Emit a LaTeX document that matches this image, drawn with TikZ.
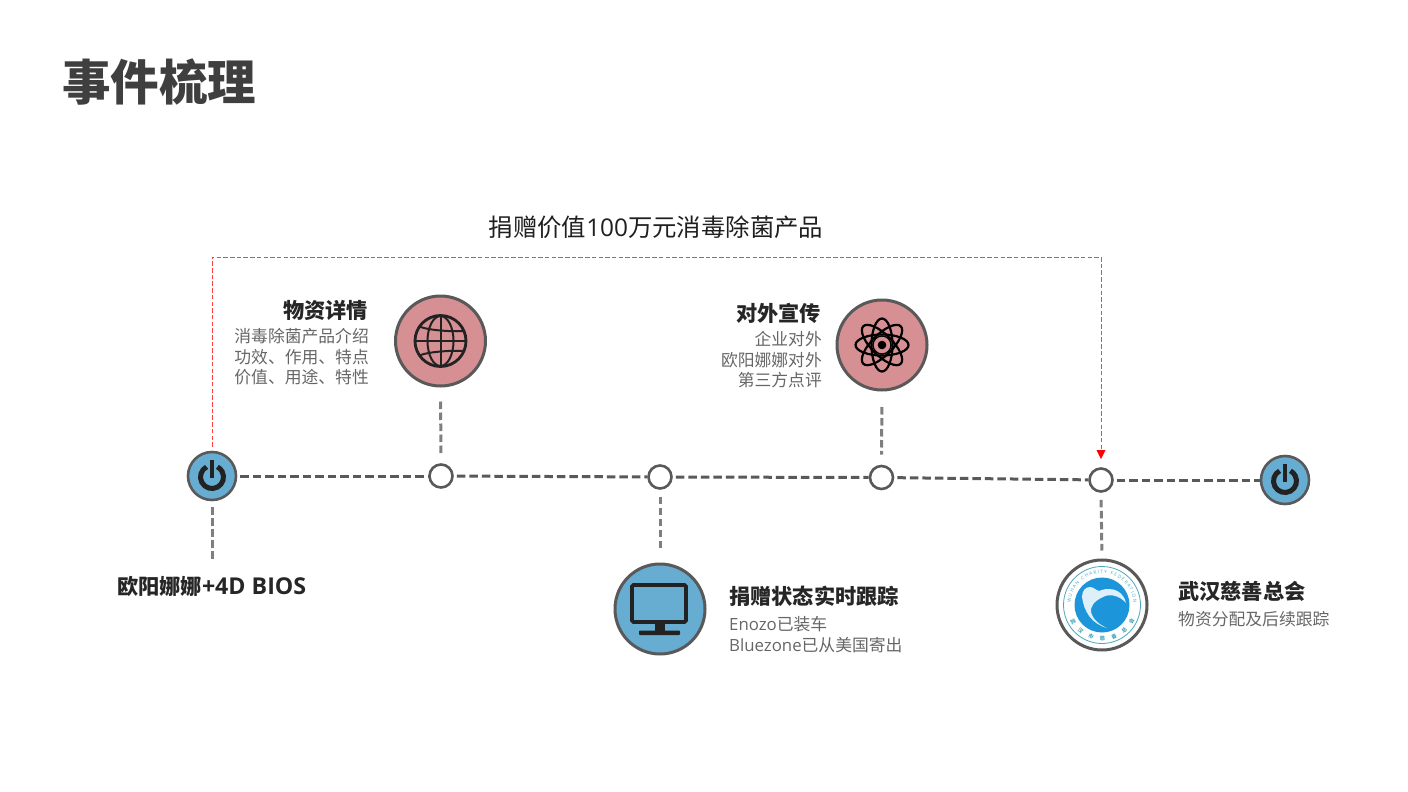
\documentclass[tikz,border=0pt]{standalone}
\usepackage{fontspec}
\setmainfont{Noto Sans CJK SC}
\newfontfamily\lat{Open Sans}
\usetikzlibrary{arrows.meta,decorations.text}
\definecolor{ringgrey}{HTML}{595959}
\definecolor{vgrey}{HTML}{7F7F7F}
\definecolor{pinkfill}{HTML}{D68F92}
\definecolor{bluefill}{HTML}{67ADD2}
\definecolor{icondark}{HTML}{222222}
\definecolor{heading}{HTML}{262626}
\definecolor{subtext}{HTML}{666666}
\definecolor{titlegrey}{HTML}{3F3F3F}
\definecolor{logoteal}{HTML}{4BA7BC}
\definecolor{logoblue}{HTML}{1C95DA}
\definecolor{redline}{HTML}{FF4040}
\tikzset{
  x=1pt,y=-1pt,
  bigdisc/.style={circle,draw=ringgrey,line width=3pt,minimum size=90pt,inner sep=0pt},
  powerdisc/.style={circle,draw=ringgrey,line width=2.6pt,minimum size=48pt,inner sep=0pt,fill=bluefill},
  hub/.style={circle,draw=ringgrey,line width=2.6pt,minimum size=23pt,inner sep=0pt,fill=white},
  mainlink/.style={draw=ringgrey,line width=3pt,dash pattern=on 8.5pt off 4pt},
  vlink/.style={draw=vgrey,line width=3pt,dash pattern=on 7.5pt off 3.5pt},
  redlink/.style={color=redline,line width=1pt,dash pattern=on 4.5pt off 2.2pt},
  redtip/.style={fill=red,draw=none},
  headtxt/.style={inner sep=0pt,text=heading,font=\fontsize{21.2}{25}\selectfont\bfseries},
  subtxt/.style={inner sep=0pt,text=subtext,font=\fontsize{16.8}{20.3}\selectfont},
  icon/.style={draw=icondark,line width=2.8pt},
}
\begin{document}
\begin{tikzpicture}
\useasboundingbox (0,0) rectangle (1408,792);
% title and top label
\node[anchor=base west,inner sep=0pt,text=titlegrey,font=\fontsize{48.5}{50}\selectfont\bfseries] (title) at (62,100.5) {事件梳理};
\node[anchor=base,inner sep=0pt,text=black!88,font=\fontsize{24.4}{28}\selectfont] (toplabel) at (656,236) {捐赠价值{\lat 100}万元消毒除菌产品};
% timeline nodes
\node[powerdisc] (p1) at (212,476) {};
\node[hub] (n1) at (441,476) {};
\node[hub] (n2) at (660,477) {};
\node[hub] (n3) at (881.5,477.5) {};
\node[hub] (n4) at (1101,480) {};
\node[powerdisc] (p2) at (1285,480) {};
% big discs
\node[bigdisc,fill=pinkfill] (globe) at (440.5,341) {};
\node[bigdisc,fill=pinkfill] (atom) at (882,345) {};
\node[bigdisc,fill=bluefill] (screen) at (660,609) {};
\node[bigdisc,fill=white] (logo) at (1102,605) {};
\coordinate (below) at (212,560);
\coordinate (topy) at (0,257);
% main line
\draw[mainlink,shorten <=3pt] (p1) -- (n1);
\draw[mainlink,shorten <=3pt] (n1) -- (n2);
\draw[mainlink,shorten <=3pt] (n2) -- (n3);
\draw[mainlink,shorten <=3pt] (n3) -- (n4);
\draw[mainlink,shorten <=3pt] (n4) -- (p2);
% vertical links
\draw[vlink,shorten <=14pt,shorten >=10pt] (globe.south) -- (n1.north);
\draw[vlink,shorten <=17pt,shorten >=10pt] (atom.south |- 0,390) -- (n3.north);
\draw[vlink,shorten <=7pt,shorten >=13pt] (n2.south) -- (screen.north);
\draw[vlink,shorten <=7pt,shorten >=8pt] (n4.south) -- (logo.north);
\draw[vlink,shorten <=6pt] (p1.south) -- (below);
% red bracket
\draw[redlink,shorten <=4pt,shorten >=15pt] (p1.north) -- (p1.north |- topy) -- (n4.north |- topy) -- (n4.north);
\fill[redtip] ([yshift=8pt]n4.north) -- ++(-4.5,-9) -- ++(9,0) -- cycle;
% power icons
\foreach \c in {p1,p2}{
  \draw[icondark,line width=5pt] (\c) ++(0,1) ++(118:11.5pt) arc[start angle=118,end angle=422,radius=11.5pt];
  \draw[icondark,line width=4pt] (\c) ++(0,-16) -- ++(0,18);
}
% globe icon
\begin{scope}
  \draw[icon] (globe) circle[radius=25.5pt];
  \clip (globe) circle[radius=25.5pt];
  \draw[icondark,line width=2pt] (globe) circle[x radius=13pt,y radius=25pt];
  \draw[icondark,line width=2pt] (globe.center) ++(0,-25) -- ++(0,50);
  \draw[icondark,line width=2pt] (globe.center) ++(-25,0) -- ++(50,0);
  \draw[icondark,line width=2pt] (globe.center) ++(-22,-15) .. controls ++(12,7) and ++(32,7) .. ++(44,0);
  \draw[icondark,line width=2pt] (globe.center) ++(-22,15) .. controls ++(12,-7) and ++(32,-7) .. ++(44,0);
\end{scope}
% atom icon
\foreach \r in {0,45,90,135}{
  \draw[black,line width=2.2pt] (atom) circle[x radius=26.5pt,y radius=10.5pt,rotate=\r];
}
\draw[black,line width=1.3pt] (atom) circle[radius=9pt];
\fill[black] (atom) circle[radius=4.3pt];
% monitor icon
\draw[icondark,line width=3.8pt,rounded corners=1.5pt,fill=bluefill] (632,585) rectangle (686,622);
\fill[icondark] (655,623) rectangle (665,631);
\fill[icondark,rounded corners=0.8pt] (639,630.5) rectangle (680,635);
% logo
\draw[logoteal,line width=0.8pt] (logo) circle[radius=38.5pt];
\fill[logoblue] (logo) circle[radius=27.5pt];
\fill[white,opacity=0.85] (1107,628) .. controls (1092,624) and (1084,612) .. (1082,597)
  .. controls (1082,590) and (1086,587) .. (1090,587)
  .. controls (1093,587) and (1096,590) .. (1099,591)
  .. controls (1105,588) and (1122,586) .. (1126,603)
  .. controls (1120,596) and (1110,593) .. (1103,597)
  .. controls (1094,601) and (1090,607) .. (1091,612)
  .. controls (1093,620) and (1100,625) .. (1107,628) -- cycle;
\path[decorate,decoration={text along path,text color=logoteal,
    text={|\fontsize{4.6}{6}\selectfont\lat|WUHAN CHARITY FEDERATION},
    text align={fit to path}}]
  (logo) ++(176:31.5pt) arc[start angle=176,end angle=4,radius=31.5pt];
\foreach \ch [count=\i from 0] in {武,汉,市,慈,善,总,会}{
  \pgfmathsetmacro\ang{210+\i*20.3}
  \pgfmathsetmacro\rot{\ang+90}
  \node[inner sep=0pt,text=logoteal,font=\fontsize{5.2}{6}\selectfont\bfseries,rotate=\rot] (lc\i) at ([shift={(\ang:33.5pt)}]logo) {\ch};
}
% labels
\node[headtxt,anchor=base east] (h1) at (368,318.5) {物资详情};
\node[subtxt,anchor=north east,align=right] (s1) at (369,328.5) {消毒除菌产品介绍\\功效、作用、特点\\价值、用途、特性};
\node[headtxt,anchor=base east] (h2) at (821,321) {对外宣传};
\node[subtxt,anchor=north east,align=right] (s2) at (822,331.5) {企业对外\\欧阳娜娜对外\\第三方点评};
\node[headtxt,anchor=base west] (h3) at (729,604.5) {捐赠状态实时跟踪};
\node[subtxt,anchor=north west,align=left] (s3) at (729,616.5) {{\lat Enozo}已装车\\{\lat Bluezone}已从美国寄出};
\node[headtxt,anchor=base west] (h4) at (1178,599.5) {武汉慈善总会};
\node[subtxt,anchor=base west] (s4) at (1178,625) {物资分配及后续跟踪};
\node[headtxt,anchor=base west] (h5) at (117,594.5) {欧阳娜娜{\lat\fontsize{23.2}{25}\selectfont +4D BIOS}};
\end{tikzpicture}
\end{document}
